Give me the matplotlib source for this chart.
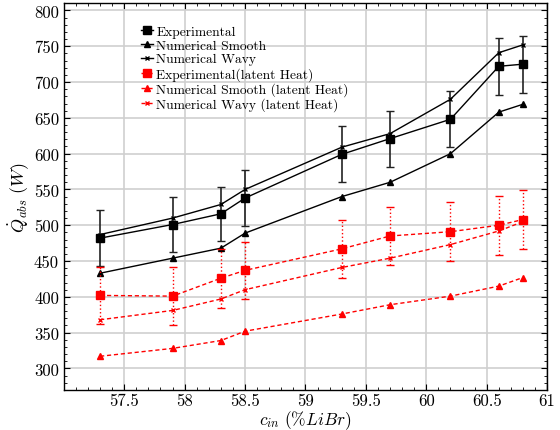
import numpy as np
import matplotlib
matplotlib.use('Agg')
import matplotlib.pyplot as plt
from matplotlib.lines import Line2D
from matplotlib.ticker import MultipleLocator, FuncFormatter

plt.rcParams['font.family'] = 'serif'
plt.rcParams['font.serif'] = ['cmr10']
plt.rcParams['mathtext.fontset'] = 'cm'
plt.rcParams['axes.formatter.use_mathtext'] = True

# inlet concentration (%LiBr)
c_in = [57.3, 57.9, 58.3, 58.5, 59.3, 59.7, 60.2, 60.6, 60.8]

# absorbed heat, total (W)
q_exp = [482, 501, 516, 538, 599, 621, 648, 722, 725]
q_exp_err = [39, 39, 38, 39, 39, 39, 39, 40, 40]
q_num_smooth = [433, 454, 468, 489, 540, 560, 600, 658, 669]
q_num_wavy = [487, 510, 529, 550, 609, 628, 676, 741, 752]

# absorbed heat, latent part only (W)
q_exp_lat = [402, 401, 426, 437, 467, 485, 491, 500, 508]
q_exp_lat_err = [40, 40, 41, 40, 40, 40, 41, 41, 41]
q_num_smooth_lat = [317, 328, 339, 352, 376, 389, 401, 415, 427]
q_num_wavy_lat = [368, 381, 397, 410, 441, 454, 473, 492, 505]

dash = (0, (3, 2))

fig = plt.figure(figsize=(5.6, 4.31), dpi=100)
ax = fig.add_axes([0.114, 0.093, 0.863, 0.897])

ax.grid(True, which='major', color='#cfcfcf', linewidth=1.2)
ax.set_axisbelow(True)

ax.errorbar(c_in, q_exp, yerr=q_exp_err, color='black', marker='s', markersize=6,
            linewidth=1, ecolor='#222222', elinewidth=1.2, capsize=3)
ax.plot(c_in, q_num_smooth, color='black', marker='^', markersize=4, linewidth=1)
ax.plot(c_in, q_num_wavy, color='black', marker='x', markersize=3.5, linewidth=1)

eb = ax.errorbar(c_in, q_exp_lat, yerr=q_exp_lat_err, color='red', marker='s',
                 markersize=6, linewidth=1, linestyle=dash, elinewidth=1, capsize=3)
for bar in eb[2]:
    bar.set_linestyle(':')
ax.plot(c_in, q_num_smooth_lat, color='red', marker='^', markersize=4,
        linewidth=1, linestyle=dash)
ax.plot(c_in, q_num_wavy_lat, color='red', marker='x', markersize=3.5,
        linewidth=1, linestyle=dash)

ax.set_xlim(57.0, 61.0)
ax.set_ylim(270, 810)
ax.set_xticks(np.arange(57.5, 61.01, 0.5))
ax.yaxis.set_major_locator(MultipleLocator(50))
ax.xaxis.set_minor_locator(MultipleLocator(0.1))
ax.yaxis.set_minor_locator(MultipleLocator(10))
ax.xaxis.set_major_formatter(FuncFormatter(lambda v, p: '%g' % v))
ax.yaxis.set_major_formatter(FuncFormatter(lambda v, p: '%g' % v))
ax.tick_params(which='both', direction='in', top=True, right=True, labelsize=12)
ax.tick_params(axis='x', pad=2)
ax.tick_params(which='major', length=4)
ax.tick_params(which='minor', length=2)
for s in ax.spines.values():
    s.set_linewidth(1)

ax.set_xlabel(r'$c_{in}\ (\%LiBr)$', fontsize=12.5, labelpad=0)
ax.set_ylabel(r'$\dot{Q}_{abs}\ (W)$', fontsize=13, labelpad=2)

# legend entries drawn without the error bars
handles = [
    Line2D([], [], color='black', marker='s', markersize=6, linewidth=1),
    Line2D([], [], color='black', marker='^', markersize=4, linewidth=1),
    Line2D([], [], color='black', marker='x', markersize=3.5, linewidth=1),
    Line2D([], [], color='red', marker='s', markersize=6, linewidth=1, linestyle=dash),
    Line2D([], [], color='red', marker='^', markersize=4, linewidth=1, linestyle=dash),
    Line2D([], [], color='red', marker='x', markersize=3.5, linewidth=1, linestyle=dash),
]
labels = ['Experimental', 'Numerical Smooth', 'Numerical Wavy',
          'Experimental(latent Heat)', 'Numerical Smooth (latent Heat)',
          'Numerical Wavy (latent Heat)']
ax.legend(handles, labels, loc='upper left', bbox_to_anchor=(0.145, 0.96),
          frameon=False, fontsize=9.7, handlelength=0.9, handletextpad=0.25,
          labelspacing=0.1, borderpad=0)

plt.savefig('out.png', dpi=100)
